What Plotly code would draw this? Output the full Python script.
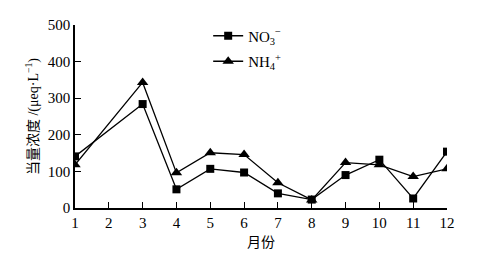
import plotly.graph_objects as go

months = [1, 2, 3, 4, 5, 6, 7, 8, 9, 10, 11, 12]
no3_months = [1, 3, 4, 5, 6, 7, 8, 9, 10, 11, 12]
no3 = [141, 284, 51, 107, 97, 40, 23, 90, 132, 26, 154]
nh4_months = [1, 3, 4, 5, 6, 7, 8, 9, 10, 11, 12]
nh4 = [118, 343, 96, 151, 146, 69, 22, 124, 118, 86, 107]
yticks = [0, 100, 200, 300, 400, 500]

fig = go.Figure()
fig.add_trace(go.Scatter(x=no3_months, y=no3, mode="lines+markers", name="NO<sub>3</sub><sup>−</sup>",
                         legendgroup="a",
                         line=dict(color="black", width=1.3),
                         marker=dict(symbol="square", size=8, color="black")))
fig.add_trace(go.Scatter(x=nh4_months, y=nh4, mode="lines+markers", name="NH<sub>4</sub><sup>+</sup>",
                         legendgroup="b",
                         line=dict(color="black", width=1.3),
                         marker=dict(symbol="triangle-up", size=10, color="black")))

fig.update_layout(
    width=471, height=248,
    margin=dict(l=67, r=32, t=17, b=48, autoexpand=False),
    paper_bgcolor="white", plot_bgcolor="white",
    font=dict(family="Liberation Serif, Noto Sans CJK SC", size=15, color="black"),
    showlegend=True,
    legend=dict(x=0.358, y=1.03, xanchor="left", yanchor="top", bgcolor="rgba(0,0,0,0)",
                font=dict(size=15), traceorder="grouped", tracegroupgap=3),
    xaxis=dict(range=[1, 12], tickvals=months, ticks="inside", ticklen=6, tickwidth=1.3,
               tickcolor="black", showline=True, linecolor="black", linewidth=1.5,
               showgrid=False, zeroline=False, automargin=False,
               title=dict(text="月份", font=dict(family="Noto Sans CJK SC", size=14), standoff=2)),
    yaxis=dict(range=[0, 500], tickvals=yticks, ticks="inside", ticklen=6, tickwidth=1.3,
               tickcolor="black", showline=True, linecolor="black", linewidth=1.5,
               showgrid=False, zeroline=False, automargin=False,
               title=dict(text="当量浓度 /(μeq·L<sup>−1</sup>)",
                          font=dict(family="Liberation Serif, Noto Sans CJK SC", size=14), standoff=6)),
)
fig.write_html("out.html")
